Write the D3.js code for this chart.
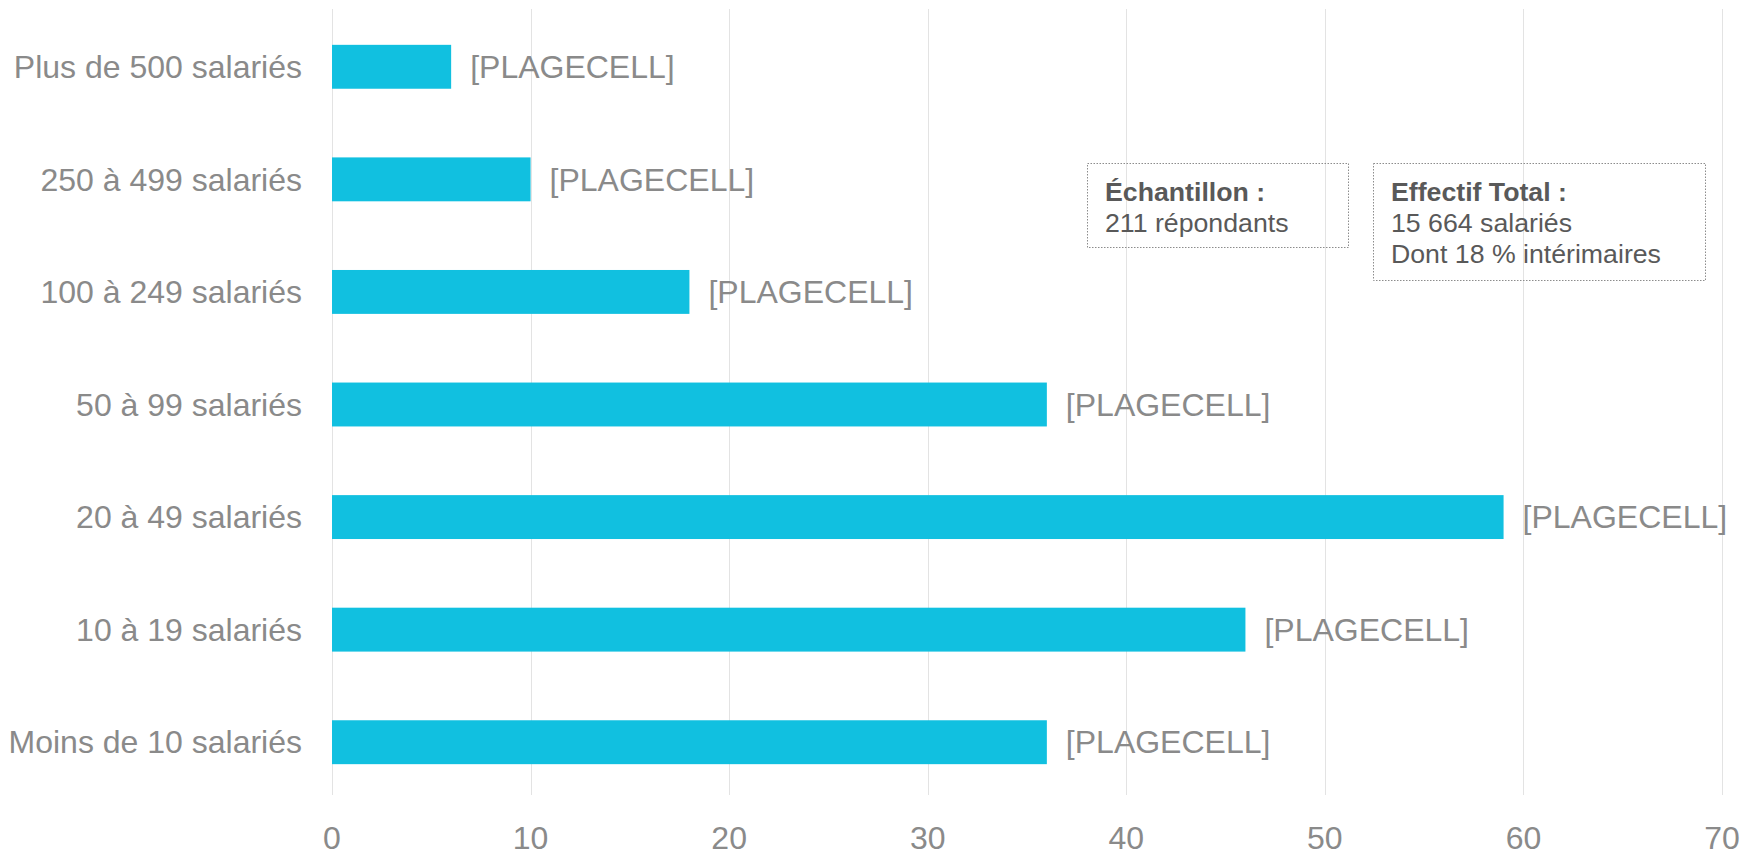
<!DOCTYPE html>
<html>
<head>
<meta charset="utf-8">
<script src="https://cdn.jsdelivr.net/npm/d3@7"></script>
<style>
  body { margin: 0; background: #fff; }
  text { font-family: "Liberation Sans", Arial, sans-serif; }
</style>
</head>
<body>
<div id="chart"></div>
<script>
// categories top to bottom, as in the picture
const categories = [
    "Plus de 500 salariés",
    "250 à 499 salariés",
    "100 à 249 salariés",
    "50 à 99 salariés",
    "20 à 49 salariés",
    "10 à 19 salariés",
    "Moins de 10 salariés"
];
const values = [6, 10, 18, 36, 59, 46, 36];
const barLabels = categories.map(() => "[PLAGECELL]");
const xTicks = [0, 10, 20, 30, 40, 50, 60, 70];
const box1Lines = ["Échantillon :", "211 répondants"];
const box2Lines = ["Effectif Total :", "15 664 salariés", "Dont 18 % intérimaires"];

const width = 1742, height = 853;
const margin = {top: 9, right: 20, bottom: 58, left: 332};

const svg = d3.select("#chart").append("svg")
    .attr("width", width)
    .attr("height", height);

const x = d3.scaleLinear()
    .domain([0, 70])
    .range([margin.left, 1722]);

// bands laid out so the bars sit where the reference has them
const y = d3.scaleBand()
    .domain(categories)
    .range([10.5, 798.5])
    .paddingInner(0.61)
    .paddingOuter(0.305);

// gridlines
svg.append("g")
    .selectAll("line")
    .data(xTicks)
    .enter().append("line")
    .attr("x1", d => Math.round(x(d)) + 0.5)
    .attr("x2", d => Math.round(x(d)) + 0.5)
    .attr("y1", margin.top)
    .attr("y2", height - margin.bottom)
    .attr("stroke", "#e3e3e3")
    .attr("stroke-width", 1);

// x tick labels
svg.append("g")
    .selectAll("text")
    .data(xTicks)
    .enter().append("text")
    .attr("x", d => x(d))
    .attr("y", 849)
    .attr("text-anchor", "middle")
    .attr("font-size", 32)
    .attr("fill", "#8a8a8a")
    .text(d => d);

// bars
svg.append("g")
    .selectAll("rect")
    .data(values)
    .enter().append("rect")
    .attr("x", x(0))
    .attr("y", (d, i) => y(categories[i]))
    .attr("width", d => x(d) - x(0))
    .attr("height", y.bandwidth())
    .attr("fill", "#11c0e0");

// category labels
svg.append("g")
    .selectAll("text")
    .data(categories)
    .enter().append("text")
    .attr("x", 302)
    .attr("y", d => y(d) + y.bandwidth() / 2)
    .attr("dy", "0.35em")
    .attr("text-anchor", "end")
    .attr("font-size", 32)
    .attr("fill", "#8a8a8a")
    .text(d => d);

// value labels
svg.append("g")
    .selectAll("text")
    .data(values)
    .enter().append("text")
    .attr("x", d => x(d) + 19)
    .attr("y", (d, i) => y(categories[i]) + y.bandwidth() / 2)
    .attr("dy", "0.35em")
    .attr("font-size", 32)
    .attr("fill", "#8a8a8a")
    .text((d, i) => barLabels[i]);

// info boxes
function infoBox(lines, bx, by, bw, bh) {
    const g = svg.append("g");
    g.append("rect")
        .attr("x", bx + 0.5)
        .attr("y", by + 0.5)
        .attr("width", bw)
        .attr("height", bh)
        .attr("fill", "none")
        .attr("stroke", "#8c8c8c")
        .attr("stroke-width", 1)
        .attr("stroke-dasharray", "1.5,1.5");
    g.selectAll("text")
        .data(lines)
        .enter().append("text")
        .attr("x", bx + 18)
        .attr("y", (d, i) => by + 38 + i * 31)
        .attr("font-size", 26.7)
        .attr("font-weight", (d, i) => i === 0 ? "bold" : "normal")
        .attr("fill", "#595959")
        .text(d => d);
}

infoBox(box1Lines, 1087, 163, 261, 84);
infoBox(box2Lines, 1373, 163, 332, 117);
</script>
</body>
</html>
